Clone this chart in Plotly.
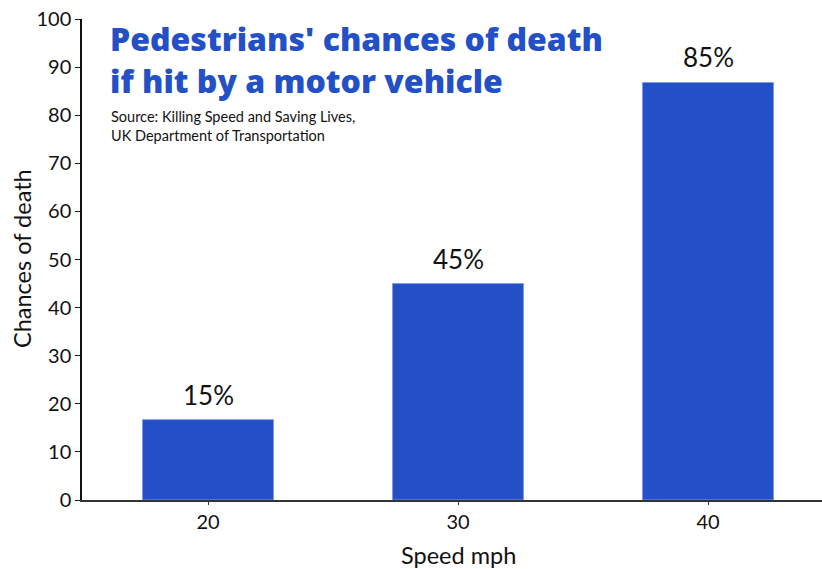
import plotly.graph_objects as go

speeds = [20, 30, 40]
death_chance = [16.7, 45.0, 86.8]
bar_labels = ["15%", "45%", "85%"]
y_ticks = list(range(0, 101, 10))
title_text = "Pedestrians' chances of death<br>if hit by a motor vehicle"
source_text = "Source: Killing Speed and Saving Lives,<br>UK Department of Transportation"

BLUE = "#234FC7"
FONT = "Lato"

fig = go.Figure()
fig.add_trace(go.Bar(
    x=speeds, y=death_chance, width=5.24,
    marker=dict(color=BLUE, line=dict(color="#7F9BE6", width=1)),
    hoverinfo="skip",
))

W, H = 822, 569
L, R, T, B = 82, 0, 19, 69
pw, ph = W - L - R, H - T - B

def px(x):
    return (x - L) / pw

def py(y):
    return (H - B - y) / ph

for s, v, lab in zip(speeds, death_chance, bar_labels):
    fig.add_annotation(x=s, y=v, xref="x", yref="y", text=lab, showarrow=False,
                       yanchor="bottom", yshift=7, font=dict(family=FONT, size=26, color="#111"))

fig.add_annotation(xref="paper", yref="paper", x=px(108), y=py(59), xanchor="left",
                   yanchor="middle", align="left", showarrow=False, text=title_text,
                   font=dict(family="Open Sans", size=32, color=BLUE, weight=800))
fig.add_annotation(xref="paper", yref="paper", x=px(109), y=py(106), xanchor="left", yanchor="top",
                   align="left", showarrow=False, text=source_text,
                   font=dict(family=FONT, size=14.5, color="#111"))
fig.add_annotation(xref="paper", yref="paper", x=px(458), y=py(555), xanchor="center", yanchor="middle",
                   showarrow=False, text="Speed mph", font=dict(family=FONT, size=23.5, color="#111"))
fig.add_annotation(xref="paper", yref="paper", x=px(22), y=py(259), xanchor="center", yanchor="middle",
                   showarrow=False, text="Chances of death", textangle=-90,
                   font=dict(family=FONT, size=23.5, color="#111"))

fig.update_layout(
    width=W, height=H,
    margin=dict(l=L, r=R, t=T, b=B, pad=0),
    paper_bgcolor="white", plot_bgcolor="white",
    showlegend=False,
    font=dict(family=FONT, color="#111"),
    xaxis=dict(range=[14.96, 44.56], tickvals=speeds, ticktext=[str(s) for s in speeds],
               showgrid=False, zeroline=False, showline=True, linecolor="#333", linewidth=1.5,
               ticks="outside", ticklen=3, tickcolor="#333", tickfont=dict(size=20, family=FONT),
               automargin=False),
    yaxis=dict(range=[0, 100], tickvals=y_ticks, showgrid=False, zeroline=False,
               showline=True, linecolor="#111", linewidth=1.5,
               ticks="outside", ticklen=5, tickcolor="#111", tickfont=dict(size=20, family=FONT),
               automargin=False),
)

fig.write_html("out.html", config={"displayModeBar": False},
               post_script="document.body.style.margin='0';document.body.style.overflow='hidden';")
